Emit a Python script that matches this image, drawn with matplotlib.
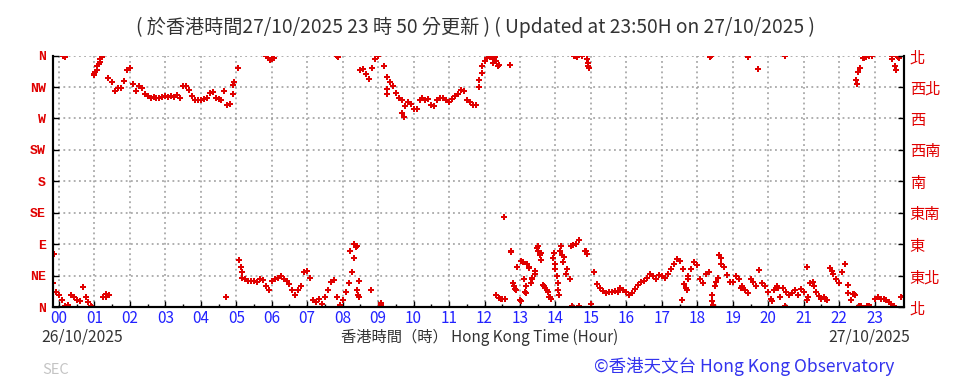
import numpy as np
import matplotlib
matplotlib.use('Agg')
import matplotlib.pyplot as plt

plt.rcParams['font.family'] = ['Noto Sans CJK TC', 'DejaVu Sans']

# Wind direction (degrees) sampled every 5 minutes, starting 23:50 on 26/10 (-10 min)
first_sample_min = -10
sample_step_min = 5
wind_dir = [
    35, 22,
    17, 10, 358, 3, 18, 14, 10, 8, 29, 14, 7, 2,                       # 00
    332, 340, 351, 14, 19, 17, 322, 310, 314, 314, 324, 340,           # 01
    343, 320, 309, 316, 313, 305, 302, 300, 301, 300, 300, 301,        # 02
    302, 301, 302, 301, 303, 299, 316, 317, 311, 302, 297, 297,        # 03
    297, 298, 299, 306, 308, 300, 298, 297, 309, 289, 291, 305,        # 04
    None, 67, 42, 40, 37, 38, 38, 36, 40, 39, 30, 25,                  # 05
    38, 40, 42, 45, 40, 37, 33, 24, 18, 24, 30, 50,                    # 06
    52, 42, 10, 7, 12, 5, 14, 25, 36, 39, 14, 3,                       # 07
    10, 22, 35, 50, 70, 88, 340, 341, 333, 327, 342, 355,              # 08
    360, 3, 345, 330, 322, 316, 306, 300, 296, 288, 294, 291,          # 09
    284, 283, 297, 299, 297, 298, 290, 288, 296, 300, 300, 296,        # 10
    294, 298, 302, 305, 311, 309, 297, 294, 290, 290, 315, 335,        # 11
    352, 356, 358, 355, 18, 13, 11, 12, None, 80, 30, 57,              # 12
    10, 65, 30, 58, 40, 48, 88, 78, 30, 25, 15, 70,                    # 13
    55, 35, 87, 72, 55, 40, 89, 90, 96, 359, 80, 350,                  # 14
    5, 50, 33, 27, 23, 20, 22, 21, 23, 22, 27, 24,                     # 15
    22, 18, 20, 26, 32, 36, 38, 42, 48, 44, 40, 46,                    # 16
    45, 42, 48, 55, 62, 69, 66, 55, 28, 40, 55, 64,                    # 17
    60, 40, 34, 48, 50, 17, 30, 42, 70, 58, 46, 36,                    # 18
    36, 44, 40, 30, 24, 20, 40, 36, 30, 53, 34, 30,                    # 19
    22, 12, 25, 30, 14, 28, 22, 18, 20, 24, 18, 26,                    # 20
    22, 10, 35, 36, 22, 16, 12, 14, 10, 56, 48, 40,                    # 21
    34, 50, 62, 20, 10, 19, 320, 342, 356, 358, 359, 360,              # 22
    12, 14, 11, 12, 10, 7, 355, 345, 358, 14, 16,                      # 23
]

# extra scattered readings (hour, degrees)
extra_points = [
    (-0.15, 76), (0.12, 359), (0.17, 1), (0.94, 0), (0.98, 334), (1.03, 337),
    (1.07, 345), (1.12, 348), (1.17, 355), (1.21, 358), (1.33, 15), (1.38, 328),
    (4.7, 14), (4.92, 318), (4.95, 322), (5.06, 343), (5.12, 58), (5.15, 50),
    (5.85, 359), (5.9, 357), (5.95, 354), (6.0, 355), (6.05, 356),
    (7.83, 359), (7.88, 358), (8.22, 80), (8.31, 90), (8.37, 86), (8.4, 24),
    (8.43, 18), (8.45, 14), (8.47, 38), (8.8, 25), (9.07, 6), (9.24, 312),
    (9.26, 305), (9.68, 278), (9.72, 272), (11.83, 325), (11.93, 345),
    (12.25, 350), (12.3, 358), (12.33, 352), (12.37, 345), (12.42, 347),
    (12.47, 12), (12.56, 129), (12.72, 347), (12.76, 79), (12.8, 35),
    (12.85, 26), (12.88, 25), (13.02, 8), (13.04, 66), (13.12, 40), (13.15, 22),
    (13.18, 20), (13.2, 62), (13.25, 56), (13.3, 35), (13.35, 42), (13.42, 52),
    (13.47, 85), (13.52, 80), (13.57, 74), (13.6, 68), (13.65, 32), (13.7, 27),
    (13.78, 22), (13.82, 14), (13.87, 11), (13.95, 78), (13.98, 62),
    (14.03, 45), (14.06, 25), (14.09, 18), (14.13, 80), (14.17, 75),
    (14.22, 65), (14.3, 48), (14.45, 88), (14.48, 1), (14.52, 359), (14.58, 359),
    (14.62, 358), (14.66, 2), (14.85, 80), (14.88, 76), (14.88, 355),
    (14.92, 345), (14.95, 342), (17.57, 10), (17.62, 33), (17.7, 24),
    (17.75, 45), (18.36, 358), (18.38, 359), (18.4, 8), (18.44, 3), (18.52, 36),
    (18.62, 74), (18.66, 62), (19.22, 28), (19.43, 358), (19.71, 341),
    (20.1, 8), (20.27, 27), (20.47, 360), (20.48, 1), (21.08, 57), (21.12, 14),
    (21.3, 30), (21.6, 12), (21.8, 52), (22.24, 31), (22.38, 19), (22.44, 18),
    (22.47, 325), (22.52, 337), (22.57, 2), (22.62, 1), (22.7, 357), (22.78, 1),
    (22.83, 1), (22.9, 0), (23.45, 5), (23.5, 360), (23.55, 2), (23.6, 340),
    (23.68, 356),
]

hour_labels = ['%02d' % h for h in range(24)]
dir_labels_en = ['N', 'NE', 'E', 'SE', 'S', 'SW', 'W', 'NW', 'N']
dir_labels_zh = ['北', '東北', '東', '東南', '南', '西南', '西', '西北', '北']

title_text = '( 於香港時間27/10/2025 23 時 50 分更新 ) ( Updated at 23:50H on 27/10/2025 )'
xlabel_text = '香港時間（時） Hong Kong Time (Hour)'
start_date = '26/10/2025'
end_date = '27/10/2025'
credit_text = '©香港天文台 Hong Kong Observatory'

red = '#e00000'
blue = '#2222ff'

vals = np.array([np.nan if v is None else v for v in wind_dir], dtype=float)
hours = (first_sample_min + sample_step_min * np.arange(len(vals))) / 60.0
ex_h, ex_d = zip(*extra_points)

fig = plt.figure(figsize=(9.64, 3.81), dpi=100)
ax = fig.add_axes([0.055, 0.194, 0.883, 0.66])

ax.plot(hours, vals, linestyle='none', marker='P', markersize=4.2,
        color=red, markeredgewidth=0)
ax.plot(ex_h, ex_d, linestyle='none', marker='P', markersize=4.2,
        color=red, markeredgewidth=0)

ax.set_xlim(-10 / 60, 23 + 50 / 60)
ax.set_ylim(0, 360)

ax.set_xticks(range(24))
ax.set_xticklabels(hour_labels, color=blue, fontsize=11)
ax.set_xticks(np.arange(0.5, 24, 1), minor=True)
ax.set_yticks(range(0, 361, 45))
ax.set_yticklabels(dir_labels_en, color=red, fontsize=9.5,
                   family='Liberation Mono', fontweight='bold')

ax.tick_params(axis='both', which='both', direction='in', length=4, width=1)
ax.tick_params(axis='x', which='minor', length=2.5)
ax.tick_params(axis='x', pad=2)
ax.tick_params(axis='y', pad=5)

ax2 = ax.twinx()
ax2.set_ylim(0, 360)
ax2.set_yticks(range(0, 361, 45))
ax2.set_yticklabels(dir_labels_zh, color=red, fontsize=11)
ax2.tick_params(axis='y', direction='in', length=4, width=1, pad=4)

ax.grid(True, which='major', color='#9a9a9a', linestyle=(0, (1.2, 2.2)), linewidth=1.1)
for a in (ax, ax2):
    a.spines['top'].set_visible(False)
    for s in ('left', 'right', 'bottom'):
        a.spines[s].set_linewidth(1.5)

fig.text(0.493, 0.929, title_text, ha='center', va='center', fontsize=13.8, color='#333333')
fig.text(0.043, 0.115, start_date, ha='left', va='center', fontsize=11.3, color='#333333')
fig.text(0.498, 0.115, xlabel_text, ha='center', va='center', fontsize=11, color='#333333')
fig.text(0.944, 0.115, end_date, ha='right', va='center', fontsize=11.3, color='#333333')
fig.text(0.044, 0.028, 'SEC', ha='left', va='center', fontsize=10.5, color='#c4c4c4')
fig.text(0.928, 0.038, credit_text, ha='right', va='center', fontsize=12.6, color='#3333ee')

fig.savefig('out.png', dpi=100)
